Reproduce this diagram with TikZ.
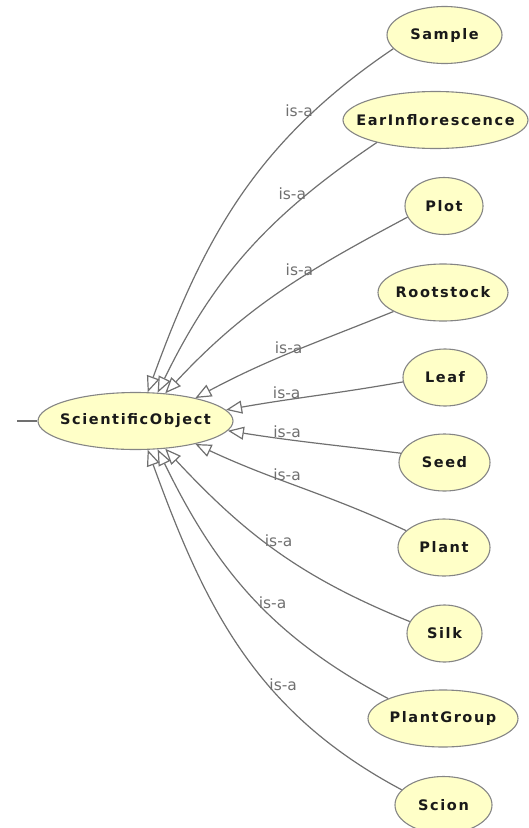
\documentclass[tikz,border=0pt]{standalone}
\usepackage{fontspec}
\usepackage{tikz}
\usetikzlibrary{shapes.geometric, arrows.meta}
\newfontfamily\clsfont[LetterSpace=11]{DejaVu Sans Bold}
\newfontfamily\lblfont{DejaVu Sans}
\definecolor{clsfill}{HTML}{FFFFC8}
\definecolor{clsline}{HTML}{858585}
\definecolor{edgeline}{HTML}{707070}
\definecolor{lbltext}{HTML}{707070}

\begin{document}
\begin{tikzpicture}[x=1pt, y=-1pt,
    cls/.style={ellipse, draw=clsline, fill=clsfill, line width=1.1pt,
                inner xsep=-20pt, inner ysep=0pt, minimum height=57pt,
                font=\clsfont\fontsize{14.5}{17}\selectfont, text=black!90},
    isa/.style={draw=edgeline, line width=1.2pt,
                -{Triangle[fill=white, length=16pt, width=13pt]}},
    lbl/.style={font=\lblfont\fontsize{15.5}{18}\selectfont, text=lbltext, inner sep=1pt}
]
    \useasboundingbox (0,0) rectangle (528,828);

    % Superclass on the left
    \node[cls, minimum width=195pt] (sci)    at (135.5,421)   {ScientificObject};
    \coordinate (thing) at (17,421);

    % Subclasses, one column on the right
    \node[cls, minimum width=115pt] (sample) at (444.5,35)    {Sample};
    \node[cls, minimum width=185pt] (ear)    at (435.5,120)   {EarInflorescence};
    \node[cls, minimum width=78pt]  (plt)    at (444,206)     {Plot};
    \node[cls, minimum width=130pt] (root)   at (443,292.5)   {Rootstock};
    \node[cls, minimum width=84pt]  (leaf)   at (445,377.5)   {Leaf};
    \node[cls, minimum width=91pt]  (seed)   at (444.5,462.5) {Seed};
    \node[cls, minimum width=92pt]  (plant)  at (444,547.5)   {Plant};
    \node[cls, minimum width=75pt]  (silk)   at (444.5,633.5) {Silk};
    \node[cls, minimum width=150pt] (group)  at (443,718.5)   {PlantGroup};
    \node[cls, minimum width=97pt]  (scion)  at (443.5,805)   {Scion};

    \draw[draw=edgeline, line width=1.2pt] (thing) -- (sci);

    % ── is-a edges, upper fan ──
    \draw[isa] (sample.195) to[out=214, in=70] node[lbl, left, pos=.22] {is-a} (sci.67);
    \draw[isa] (ear.201)    to[out=214, in=64] node[lbl, left, pos=.24] {is-a} (sci.52);
    \draw[isa] (plt.197)    to[out=208, in=47] node[lbl, left, pos=.34] {is-a} (sci.43);
    \draw[isa] (root.201)   to[out=202, in=28] node[lbl, left, pos=.44] {is-a} (sci.21);

    % ── is-a edges, middle ──
    \draw[isa] (leaf.186)   to[out=190, in=10]  node[lbl, above, pos=.67] {is-a} (sci.7);
    \draw[isa] (seed.168)   to[out=173, in=-9]  node[lbl, above, pos=.67] {is-a} (sci.-6);
    \draw[isa] (plant.156)  to[out=155, in=-25] node[lbl, above, pos=.57] {is-a} (sci.-21);

    % ── is-a edges, lower fan ──
    \draw[isa] (silk.161)   to[out=158, in=-47] node[lbl, right, pos=.56] {is-a} (sci.-43);
    \draw[isa] (group.160)  to[out=152, in=-64] node[lbl, right, pos=.47] {is-a} (sci.-52);
    \draw[isa] (scion.160)  to[out=152, in=-70] node[lbl, right, pos=.39] {is-a} (sci.-67);
\end{tikzpicture}
\end{document}
